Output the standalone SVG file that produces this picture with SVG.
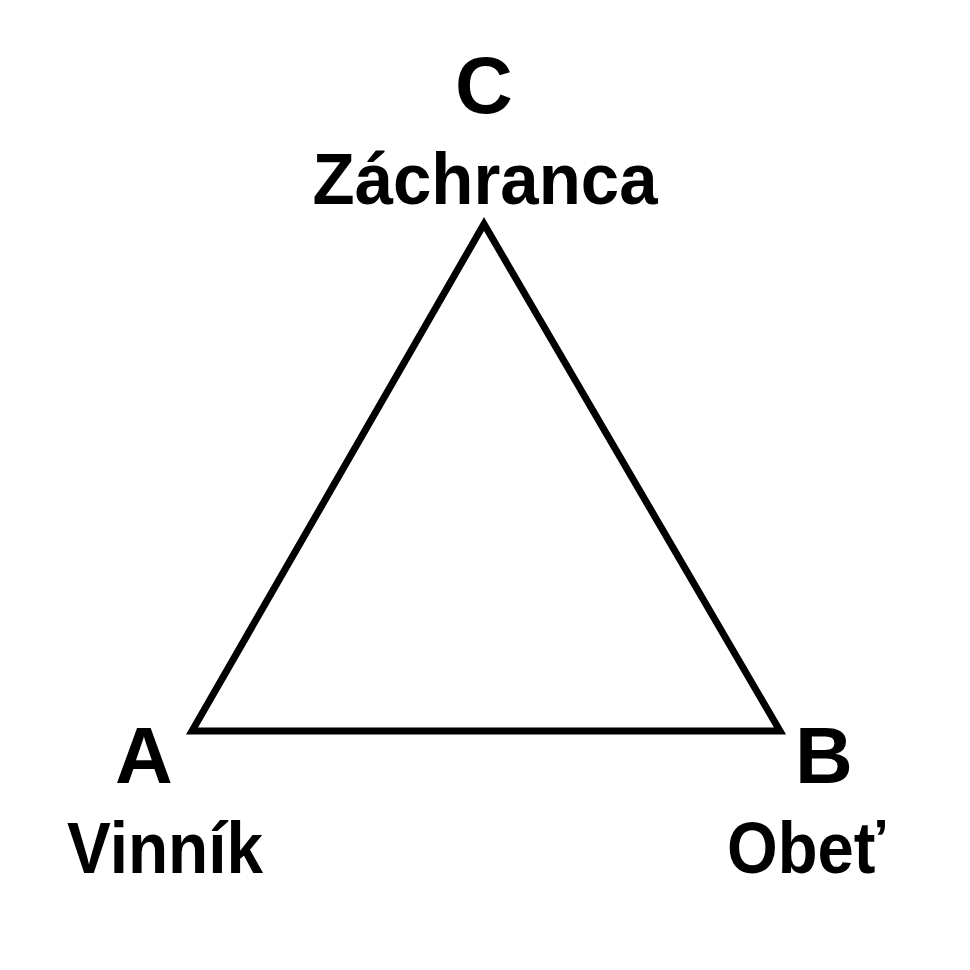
<svg xmlns="http://www.w3.org/2000/svg" width="970" height="970" viewBox="0 0 970 970">
<style>
.t{font-family:"Liberation Sans",Arial,sans-serif;font-weight:bold;fill:#000;text-anchor:middle}
.big{font-size:80px}
.lab{font-size:72px}
</style>
<rect width="970" height="970" fill="#fff"/>
<g id="connectors">
<polygon points="484,224 192,731 780,731" fill="none" stroke="#000" stroke-width="7" stroke-linejoin="miter"/>
</g>
<g id="nodeC">
<text class="t big" x="484" y="113">C</text>
<text class="t lab" x="485" y="204" textLength="345" lengthAdjust="spacingAndGlyphs">Záchranca</text>
</g>
<g id="nodeA">
<text class="t big" x="144" y="783">A</text>
<text class="t lab" x="165" y="873" textLength="196" lengthAdjust="spacingAndGlyphs">Vinník</text>
</g>
<g id="nodeB">
<text class="t big" x="824" y="783">B</text>
<text class="t lab" x="806" y="873" textLength="158" lengthAdjust="spacingAndGlyphs">Obeť</text>
</g>
</svg>
